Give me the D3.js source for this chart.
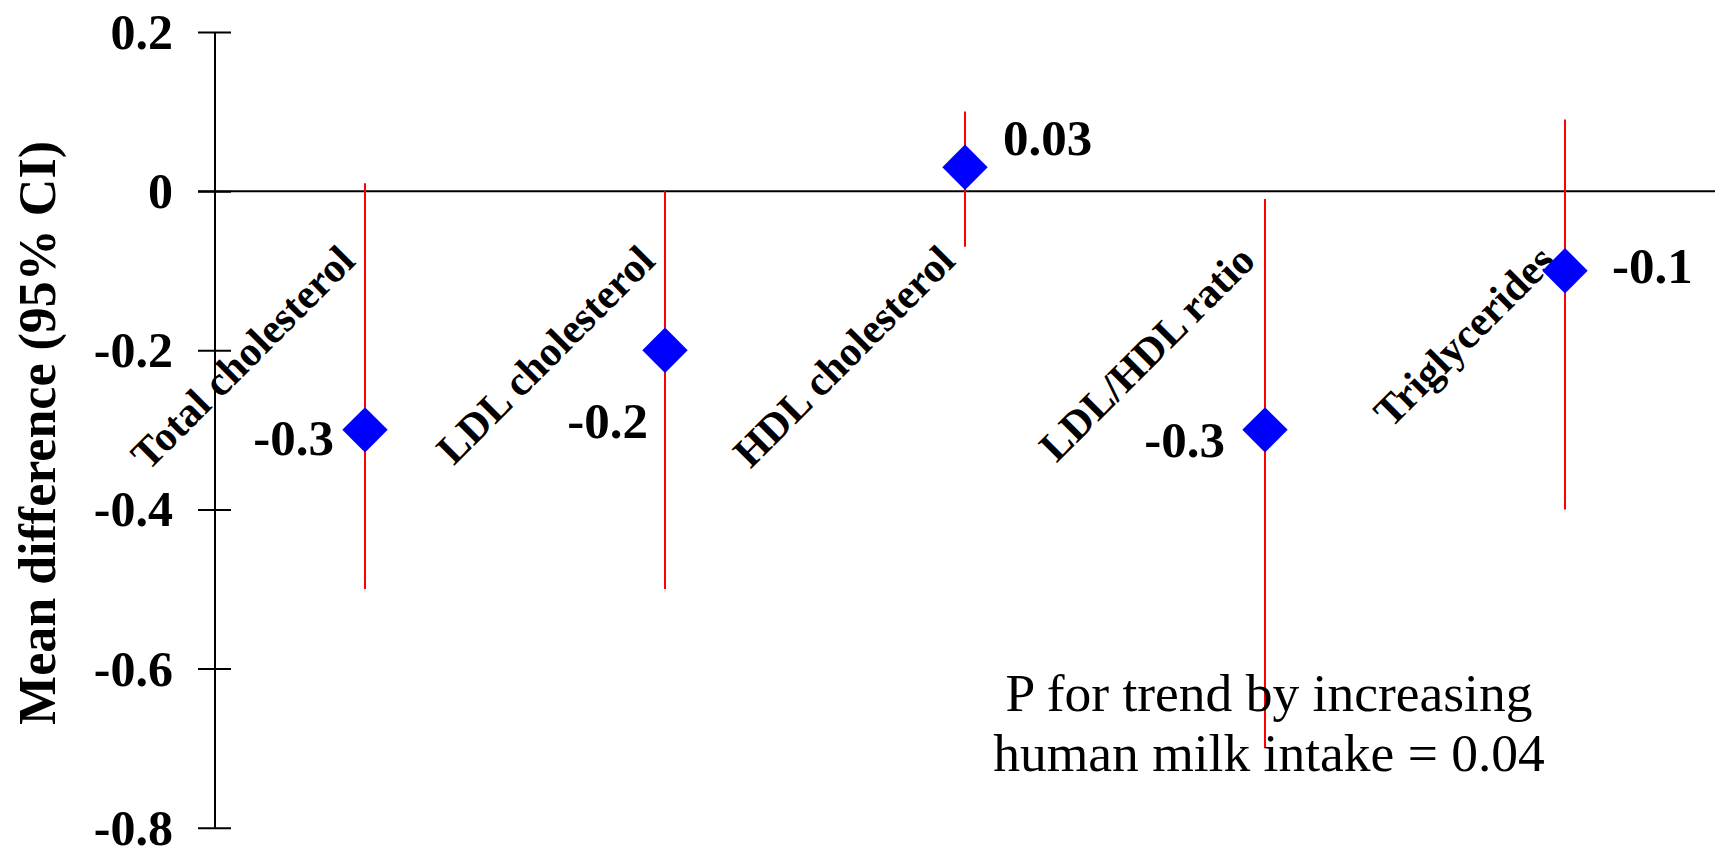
<!DOCTYPE html>
<html>
<head>
<meta charset="utf-8">
<script src="https://cdn.jsdelivr.net/npm/d3@7"></script>
<style>
  html, body { margin: 0; padding: 0; background: #ffffff; }
  svg { display: block; }
</style>
</head>
<body>
<svg id="chart" width="1715" height="848"></svg>
<script>
// ---- data ----
const categories = ["Total cholesterol", "LDL cholesterol", "HDL cholesterol", "LDL/HDL ratio", "Triglycerides"];
const meanDiff = [-0.3, -0.2, 0.03, -0.3, -0.1];
const ciLower = [-0.5, -0.5, -0.07, -0.7, -0.4];
const ciUpper = [0.01, 0.0, 0.1, -0.01, 0.09];
const yTicks = [0.2, 0, -0.2, -0.4, -0.6, -0.8];
const yTickLabels = ["0.2", "0", "-0.2", "-0.4", "-0.6", "-0.8"];
const yTitle = "Mean difference (95% CI)";
const noteLines = ["P for trend by increasing", "human milk intake = 0.04"];

// ---- layout (not data) ----
const valueLabelPlacement = [
  { anchor: "end", dx: -31, dy: 25 },
  { anchor: "end", dx: -17, dy: 88 },
  { anchor: "start", dx: 38, dy: -12 },
  { anchor: "end", dx: -40, dy: 27 },
  { anchor: "start", dx: 47, dy: 12 }
];
const serif = "'Liberation Serif', 'Times New Roman', Times, serif";

const svg = d3.select("#chart");
const W = 1715;

const y = d3.scaleLinear().domain([-0.8, 0.2]).range([827.7, 32]);
const x = d3.scalePoint().domain(categories).range([365, 1565]);
const axisX = 215;

// zero reference line
svg.append("line")
  .attr("x1", 198).attr("x2", W)
  .attr("y1", y(0)).attr("y2", y(0))
  .attr("stroke", "#000").attr("stroke-width", 2);

// y axis via d3.axisLeft (ticks crossing the axis)
const axis = d3.axisLeft(y)
  .tickValues(yTicks)
  .tickFormat((d, i) => yTickLabels[i])
  .tickSizeOuter(0)
  .tickSize(0);
const gAxis = svg.append("g").attr("transform", `translate(${axisX},0)`).call(axis);
gAxis.select(".domain").attr("stroke", "#000").attr("stroke-width", 2)
  .attr("d", `M0,${y(0.2)}V${y(-0.8)}`);
gAxis.selectAll(".tick line")
  .attr("x1", -17).attr("x2", 16)
  .attr("stroke", "#000").attr("stroke-width", 2);
gAxis.selectAll(".tick text")
  .attr("x", -42)
  .attr("dy", "0.33em")
  .attr("fill", "#000")
  .style("font-family", serif)
  .style("font-weight", "bold")
  .style("font-size", "50px");

// y axis title
svg.append("text")
  .attr("transform", `translate(55,${433}) rotate(-90)`)
  .attr("text-anchor", "middle")
  .style("font-family", serif)
  .style("font-weight", "bold")
  .style("font-size", "52px")
  .text(yTitle);

const rows = categories.map((c, i) => ({
  cat: c, mean: meanDiff[i], lo: ciLower[i], hi: ciUpper[i], i
}));

// error bars
svg.append("g").selectAll("line")
  .data(rows).join("line")
  .attr("x1", d => x(d.cat)).attr("x2", d => x(d.cat))
  .attr("y1", d => y(d.hi)).attr("y2", d => y(d.lo))
  .attr("stroke", "#ff0000").attr("stroke-width", 2);

// category labels rotated
svg.append("g").selectAll("text")
  .data(rows).join("text")
  .attr("transform", d => `translate(${x(d.cat) - 8},263) rotate(-45)`)
  .attr("text-anchor", "end")
  .style("font-family", serif)
  .style("font-weight", "bold")
  .style("font-size", "42px")
  .text(d => d.cat);

// diamonds
const dsize = 2 * 22.7 * 22.7; // area of diamond with half-diagonal 22.7
svg.append("g").selectAll("path")
  .data(rows).join("path")
  .attr("d", d3.symbol().type(d3.symbolSquare).size(dsize))
  .attr("transform", d => `translate(${x(d.cat)},${y(d.mean)}) rotate(45)`)
  .attr("fill", "#0000ff");

// value labels
svg.append("g").selectAll("text")
  .data(rows).join("text")
  .attr("x", d => x(d.cat) + valueLabelPlacement[d.i].dx)
  .attr("y", d => y(d.mean) + valueLabelPlacement[d.i].dy)
  .attr("text-anchor", d => valueLabelPlacement[d.i].anchor)
  .style("font-family", serif)
  .style("font-weight", "bold")
  .style("font-size", "51px")
  .text(d => String(d.mean));

// annotation
svg.append("g").selectAll("text")
  .data(noteLines).join("text")
  .attr("x", 1269)
  .attr("y", (d, i) => 711 + i * 60)
  .attr("text-anchor", "middle")
  .style("font-family", serif)
  .style("font-size", "53.5px")
  .text(d => d);
</script>
</body>
</html>
